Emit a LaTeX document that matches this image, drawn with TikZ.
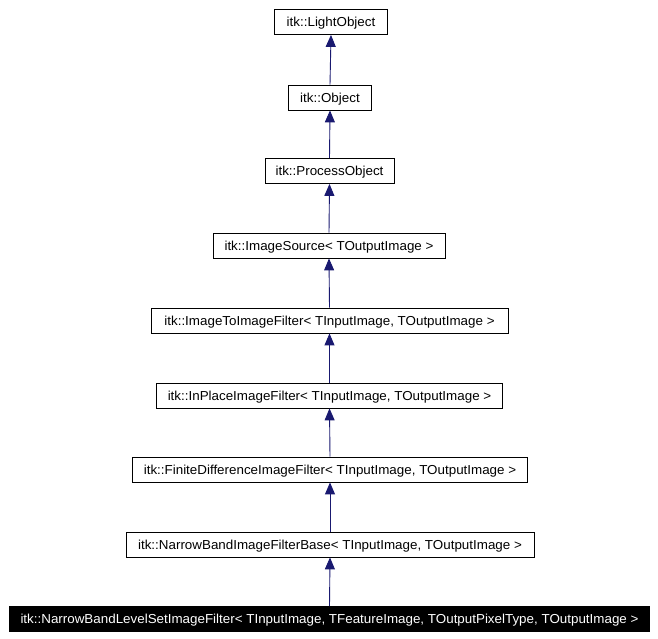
\documentclass[tikz,border=0pt]{standalone}
\usepackage{fontspec}
\usepackage{graphicx}
\setmainfont{Liberation Sans}
\usetikzlibrary{arrows.meta}
\definecolor{edgeblue}{RGB}{25,25,112}
\newcommand{\hsq}[1]{\scalebox{1.03}[1]{#1}}
\tikzset{
  cls/.style={draw=black, line width=0.8pt, fill=white, inner sep=0pt, minimum height=25pt, text height=9.3pt, text depth=0pt, font=\fontsize{13}{15}\selectfont, anchor=center},
  cur/.style={cls, fill=black, text=white},
  inh/.style={draw=edgeblue, line width=0.9pt, -{Triangle[length=12pt,width=10pt]}}
}
\begin{document}
\begin{tikzpicture}[x=1pt,y=-1pt]
\useasboundingbox (0,0) rectangle (658,639);
\node[cls, minimum width=113pt] (n1) at (331,22) {\hsq{itk::LightObject}};
\node[cls, minimum width=83pt] (n2) at (330,97.5) {\hsq{itk::Object}};
\node[cls, minimum width=129pt] (n3) at (329.5,171) {\hsq{itk::ProcessObject}};
\node[cls, minimum width=232pt] (n4) at (329,245.5) {\hsq{itk::ImageSource< TOutputImage >}};
\node[cls, minimum width=357pt] (n5) at (329.5,320.5) {\hsq{itk::ImageToImageFilter< TInputImage, TOutputImage >}};
\node[cls, minimum width=346pt] (n6) at (329.5,395.5) {\hsq{itk::InPlaceImageFilter< TInputImage, TOutputImage >}};
\node[cls, minimum width=395pt] (n7) at (330,469.5) {\hsq{itk::FiniteDifferenceImageFilter< TInputImage, TOutputImage >}};
\node[cls, minimum width=408pt] (n8) at (330,544.5) {\hsq{itk::NarrowBandImageFilterBase< TInputImage, TOutputImage >}};
\node[cur, minimum width=640pt] (n9) at (329.5,619) {\hsq{itk::NarrowBandLevelSetImageFilter< TInputImage, TFeatureImage, TOutputPixelType, TOutputImage >}};
\draw[inh] (n2.north) -- (n1.south);
\draw[inh] (n3.north) -- (n2.south);
\draw[inh] (n4.north) -- (n3.south);
\draw[inh] (n5.north) -- (n4.south);
\draw[inh] (n6.north) -- (n5.south);
\draw[inh] (n7.north) -- (n6.south);
\draw[inh] (n8.north) -- (n7.south);
\draw[inh] (n9.north) -- (n8.south);
\end{tikzpicture}
\end{document}
